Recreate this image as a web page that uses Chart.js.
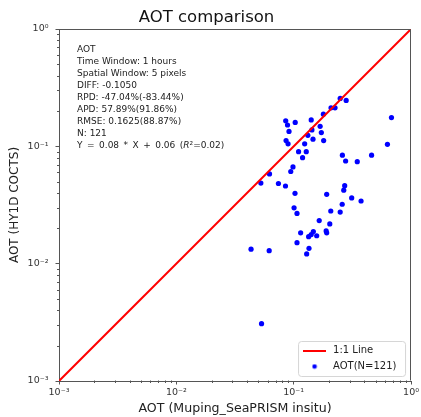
<!DOCTYPE html>
<html>
<head>
<meta charset="utf-8">
<script src="https://cdn.jsdelivr.net/npm/chart.js@4/dist/chart.umd.min.js"></script>
<style>
  html, body { margin: 0; padding: 0; background: #fff; }
  #wrap { width: 421px; height: 417px; position: relative; }
  canvas { display: block; }
</style>
</head>
<body>
<div id="wrap"><canvas id="c" width="421" height="417"></canvas></div>
<script>
// ---- Data ----
const chartTitle = 'AOT comparison';
const xAxisTitle = 'AOT (Muping_SeaPRISM insitu)';
const yAxisTitle = 'AOT (HY1D COCTS)';
const tickValues = [0.001, 0.01, 0.1, 1];
const tickLabels = ['10\u207B\u00B3', '10\u207B\u00B2', '10\u207B\u00B9', '10\u2070'];
const lineLabel = '1:1 Line';
const lineX = [0.001, 1];
const lineY = [0.001, 1];
const scatterLabel = 'AOT(N=121)';
const insituAOT = [
  0.681, 0.629, 0.461, 0.348, 0.277, 0.260, 0.280, 0.249, 0.225, 0.208,
  0.179, 0.168, 0.172, 0.180, 0.141, 0.143, 0.132, 0.146, 0.124, 0.128,
  0.110, 0.119, 0.103, 0.0855, 0.0886, 0.0912, 0.0861, 0.0895, 0.0986, 0.0944,
  0.0622, 0.0525, 0.0741, 0.0851, 0.1026, 0.272, 0.267, 0.191, 0.312, 0.375,
  0.259, 0.1007, 0.1067, 0.207, 0.249, 0.165, 0.203, 0.189, 0.191, 0.1146,
  0.147, 0.141, 0.157, 0.134, 0.1067, 0.135, 0.129, 0.0433, 0.0618, 0.0532
];
const satelliteAOT = [
  0.176, 0.104, 0.084, 0.074, 0.075, 0.084, 0.246, 0.256, 0.213, 0.213,
  0.188, 0.148, 0.131, 0.112, 0.168, 0.138, 0.124, 0.115, 0.105, 0.090,
  0.090, 0.080, 0.160, 0.165, 0.152, 0.134, 0.112, 0.105, 0.0668, 0.0610,
  0.0582, 0.0486, 0.0482, 0.0459, 0.0398, 0.0462, 0.0423, 0.0390, 0.0363, 0.0342,
  0.0321, 0.0299, 0.0268, 0.0281, 0.0275, 0.0233, 0.0218, 0.0190, 0.0183, 0.0183,
  0.0188, 0.0177, 0.0173, 0.0170, 0.0151, 0.0135, 0.0121, 0.0133, 0.0129, 0.00308
];
const annotationLines = [
  'AOT',
  'Time Window: 1 hours',
  'Spatial Window: 5 pixels',
  'DIFF: -0.1050',
  'RPD: -47.04%(-83.44%)',
  'APD: 57.89%(91.86%)',
  'RMSE: 0.1625(88.87%)',
  'N: 121'
];
const regressionParts = ['Y = 0.08 * X + 0.06 (', 'R', '\u00B2=0.02)'];

// ---- Styling ----
const FONT = "'DejaVu Sans', 'Liberation Sans', sans-serif";
Chart.defaults.font.family = FONT;
Chart.defaults.color = '#222';

function makeLineMarker() {
  const c = document.createElement('canvas');
  c.width = 23; c.height = 2;
  const g = c.getContext('2d');
  g.fillStyle = '#ff0000';
  g.fillRect(0, 0, 23, 2);
  return c;
}
function makeDotMarker() {
  const c = document.createElement('canvas');
  c.width = 6; c.height = 6;
  const g = c.getContext('2d');
  g.fillStyle = '#0000ff';
  g.beginPath(); g.arc(3, 3, 2.3, 0, Math.PI * 2); g.fill();
  return c;
}
const legendMarkers = [makeLineMarker(), makeDotMarker()];

const legendPlacer = {
  id: 'legendPlacer',
  afterLayout(chart) {
    const lg = chart.legend; const ca = chart.chartArea;
    if (!lg || !ca) return;
    lg.left = ca.right - 116;
    lg.top = ca.bottom - 41.5;
    lg.right = ca.right;
    lg.bottom = ca.bottom;
    lg.width = lg.right - lg.left;
    lg.height = lg.bottom - lg.top;
  },
  beforeDraw(chart) {
    const ctx = chart.ctx; const ca = chart.chartArea;
    ctx.save();
    ctx.fillStyle = '#ffffff';
    ctx.fillRect(0, 0, chart.width, chart.height);
    // legend frame
    const x = ca.right - 112.5, y = ca.bottom - 39.5, w = 107, h = 35, r = 3;
    ctx.beginPath();
    ctx.moveTo(x + r, y);
    ctx.arcTo(x + w, y, x + w, y + h, r);
    ctx.arcTo(x + w, y + h, x, y + h, r);
    ctx.arcTo(x, y + h, x, y, r);
    ctx.arcTo(x, y, x + w, y, r);
    ctx.closePath();
    ctx.fillStyle = 'rgba(255,255,255,0.85)';
    ctx.fill();
    ctx.strokeStyle = '#d6d6d6';
    ctx.lineWidth = 1;
    ctx.stroke();
    ctx.restore();
  }
};

const frameAndMinor = {
  id: 'frameAndMinor',
  afterDraw(chart) {
    const ctx = chart.ctx; const ca = chart.chartArea;
    const xs = chart.scales.x, ys = chart.scales.y;
    ctx.save();
    ctx.strokeStyle = '#555';
    ctx.lineWidth = 1;
    const L = Math.round(ca.left) + 0.5, R = Math.round(ca.right) - 0.5;
    const T = Math.round(ca.top) + 0.5, B = Math.round(ca.bottom) - 0.5;
    ctx.beginPath();
    ctx.moveTo(L, T); ctx.lineTo(R, T); ctx.lineTo(R, B);
    ctx.stroke();
    // minor ticks
    ctx.beginPath();
    for (let d = -3; d < 0; d++) {
      for (let k = 2; k <= 9; k++) {
        const v = k * Math.pow(10, d);
        const px = Math.round(xs.getPixelForValue(v)) + 0.5;
        ctx.moveTo(px, B); ctx.lineTo(px, B + 2.5);
        const py = Math.round(ys.getPixelForValue(v)) + 0.5;
        ctx.moveTo(L, py); ctx.lineTo(L - 2.5, py);
      }
    }
    ctx.stroke();
    // annotation text
    const fs = 9;
    ctx.fillStyle = '#222';
    ctx.textBaseline = 'middle';
    ctx.textAlign = 'left';
    ctx.font = fs + "px " + FONT;
    const tx = ca.left + 18;
    const ty = ca.top + 21;
    const step = 12;
    annotationLines.forEach((s, i) => ctx.fillText(s, tx, ty + i * step));
    const ly = ty + annotationLines.length * step;
    let cx = tx;
    // math-style spacing for the regression line
    const tokens = regressionParts[0].split(' ');
    tokens.forEach((tk, i) => {
      if (!tk) return;
      ctx.fillText(tk, cx, ly);
      cx += ctx.measureText(tk).width;
      if (i < tokens.length - 1) cx += fs * 0.5;
    });
    ctx.font = "italic " + fs + "px " + FONT;
    ctx.fillText(regressionParts[1], cx, ly);
    cx += ctx.measureText(regressionParts[1]).width;
    ctx.font = fs + "px " + FONT;
    ctx.fillText(regressionParts[2], cx, ly);
    ctx.restore();
  }
};

function logAxis(titleText, isX) {
  return {
    type: 'logarithmic',
    position: isX ? 'bottom' : 'left',
    min: 0.001,
    max: 1,
    afterBuildTicks: (scale) => { scale.ticks = tickValues.map(v => ({ value: v })); },
    afterFit: (scale) => { if (isX) scale.height = 36; else scale.width = 59; },
    ticks: {
      autoSkip: false,
      maxRotation: 0,
      padding: isX ? 2 : 7,
      color: '#333',
      font: { size: 9.5 },
      callback: (value) => {
        const i = tickValues.findIndex(t => Math.abs(Math.log10(t) - Math.log10(value)) < 1e-6);
        return i >= 0 ? tickLabels[i] : '';
      }
    },
    grid: { drawOnChartArea: false, drawTicks: true, tickLength: 3.5, color: '#555' },
    border: { display: true, color: '#555', width: 1 },
    title: {
      display: true,
      text: titleText,
      color: '#222',
      font: { size: isX ? 12.6 : 12 },
      padding: isX ? { top: 0, bottom: 0.5 } : { top: 8, bottom: 0 }
    }
  };
}

new Chart(document.getElementById('c'), {
  data: {
    datasets: [
      {
        type: 'line',
        label: lineLabel,
        data: lineX.map((x, i) => ({ x: x, y: lineY[i] })),
        borderColor: '#ff0000',
        backgroundColor: '#ff0000',
        borderWidth: 2,
        pointRadius: 0,
        fill: false,
        tension: 0
      },
      {
        type: 'scatter',
        label: scatterLabel,
        data: insituAOT.map((x, i) => ({ x: x, y: satelliteAOT[i] })),
        backgroundColor: '#0000ff',
        borderColor: '#0000ff',
        borderWidth: 0,
        pointRadius: 2.6
      }
    ]
  },
  options: {
    responsive: false,
    animation: false,
    devicePixelRatio: 1,
    layout: { padding: { left: 0, right: 8, top: 0, bottom: 0 } },
    scales: {
      x: logAxis(xAxisTitle, true),
      y: logAxis(yAxisTitle, false)
    },
    plugins: {
      title: {
        display: true,
        text: chartTitle,
        color: '#111',
        font: { size: 16.5, weight: 'normal' },
        padding: { top: 8, bottom: 1.2 }
      },
      legend: {
        display: true,
        position: 'chartArea',
        align: 'start',
        labels: {
          usePointStyle: true,
          pointStyleWidth: 27,
          padding: 6,
          color: '#222',
          font: { size: 10 },
          generateLabels: (chart) => {
            const items = Chart.defaults.plugins.legend.labels.generateLabels(chart);
            items.forEach((it, i) => { it.pointStyle = legendMarkers[i]; });
            return items;
          }
        }
      },
      tooltip: { enabled: false }
    }
  },
  plugins: [legendPlacer, frameAndMinor]
});
</script>
</body>
</html>
